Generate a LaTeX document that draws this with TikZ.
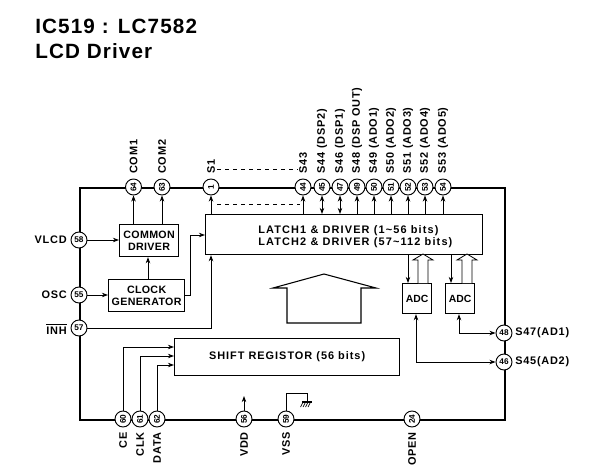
\documentclass[tikz,border=0pt]{standalone}
\usepackage{fontspec}
\setmainfont{Liberation Sans}
\newfontfamily\lblfont[LetterSpace=7]{Liberation Sans Bold}
\newfontfamily\widefont[LetterSpace=10.5]{Liberation Sans Bold}
\newfontfamily\midfont[LetterSpace=9]{Liberation Sans Bold}
\newfontfamily\blockfont[LetterSpace=3]{Liberation Sans Bold}
\newfontfamily\titlefont[LetterSpace=5.5]{Liberation Sans Bold}
\newfontfamily\numfont{Liberation Sans Bold}
\usetikzlibrary{arrows.meta,calc}
\tikzset{
  x=0.75pt,y=-0.75pt,
  wire/.style={line width=0.6pt,-{Stealth[length=4.6pt,width=3.4pt]}},
  wiretwo/.style={line width=0.6pt,{Stealth[length=4.6pt,width=3.4pt]}-{Stealth[length=4.6pt,width=3.4pt]}},
  plainwire/.style={line width=0.6pt},
  blockbox/.style={draw,line width=0.9pt,inner sep=0pt,anchor=north west,align=center,font=\blockfont\fontsize{8}{9}\selectfont},
  chipframe/.style={draw,line width=1.5pt,inner sep=0pt,anchor=north west},
  pin/.style={draw,circle,fill=white,line width=0.7pt,minimum size=12pt,inner sep=0pt,font=\numfont\fontsize{6.2}{6.5}\selectfont},
  pinv/.style={pin,rotate=90},
  toplabel/.style={rotate=90,anchor=west,inner sep=0pt,font=\lblfont\fontsize{8.2}{9}\selectfont},
  botlabel/.style={rotate=90,anchor=east,inner sep=0pt,font=\lblfont\fontsize{8.2}{9}\selectfont},
  sidelabel/.style={inner sep=0pt,font=\lblfont\fontsize{8.2}{9}\selectfont},
  titletext/.style={anchor=west,inner sep=0pt,font=\titlefont\fontsize{15.5}{18}\selectfont},
  hollow/.style={line width=0.6pt,fill=white},
}
\begin{document}
\begin{tikzpicture}
\useasboundingbox (0,0) rectangle (606,467);
\node[titletext] (t1) at (35,26) {IC519 : LC7582};
\node[titletext] (t2) at (35,51) {LCD Driver};

% chip outline
\node[chipframe,minimum width=318.75pt,minimum height=174pt] (chip) at (79,187) {};

% blocks
\node[blockbox,minimum width=44.25pt,minimum height=24pt] (cdrv) at (119,224) {COMMON\\DRIVER};
\node[blockbox,minimum width=57pt,minimum height=24pt] (clk) at (108,279) {CLOCK\\GENERATOR};
\node[blockbox,minimum width=207.75pt,minimum height=30pt] (latch) at (205,214) {};
\node[anchor=west,inner sep=0pt,align=left,font=\widefont\fontsize{8.2}{9}\selectfont] (latchtext) at (258,236.5) {LATCH1 \& DRIVER (1\textasciitilde 56 bits)\\LATCH2 \& DRIVER (57\textasciitilde 112 bits)};
\node[blockbox,minimum width=168.75pt,minimum height=27.75pt,font=\midfont\fontsize{8.2}{9}\selectfont] (shift) at (174,338) {SHIFT REGISTOR (56 bits)};
\node[blockbox,minimum width=21.75pt,minimum height=22.5pt,font=\numfont\fontsize{7.8}{9}\selectfont] (adca) at (402,283) {ADC};
\node[blockbox,minimum width=21.75pt,minimum height=22.5pt,font=\numfont\fontsize{7.8}{9}\selectfont] (adcb) at (445,283) {ADC};

% pins
\foreach \n/\x in {64/133.5,63/162,1/211,44/303,45/322,47/340,49/357,50/374,51/391,52/408,53/425,54/443}
  \node[pinv] (p\n) at (\x,187) {\n};
\foreach \n/\y in {58/240,55/295,57/328}
  \node[pin] (p\n) at (79,\y) {\n};
\foreach \n/\x in {60/123,61/140,62/157,56/244,59/286,24/412}
  \node[pinv] (p\n) at (\x,419) {\n};
\foreach \n/\y in {48/333,46/362}
  \node[pin] (p\n) at (504,\y) {\n};

% top connectors
\draw[wire] (p64|-cdrv.north) -- (p64);
\draw[wire] (p63|-cdrv.north) -- (p63);
\draw[wire] (p1|-latch.north) -- (p1);
\draw[wire] (p44|-latch.north) -- (p44);
\draw[wiretwo] (p45|-latch.north) -- (p45);
\draw[wiretwo] (p47|-latch.north) -- (p47);
\foreach \n in {49,50,51,52,53,54}
  \draw[wire] (p\n|-latch.north) -- (p\n);

% dashed continuation
\coordinate (da) at (217,169);
\coordinate (db) at (298,169);
\coordinate (dc) at (217,204);
\coordinate (dd) at (300,204);
\draw[plainwire,dashed] (da) -- (db);
\draw[plainwire,dashed] (dc) -- (dd);

% left connectors
\draw[wire] (p58) -- (p58-|cdrv.west);
\draw[wire] (p55) -- (p55-|clk.west);
\draw[wire] (clk.north-|148,0) -- (cdrv.south-|148,0);
\coordinate (clkbend) at (190,295);
\draw[wire] (clkbend-|clk.east) -- (clkbend) |- (205,235);
\coordinate (inhup) at (211,328);
\draw[wire] (p57) -- (inhup) -- (inhup|-latch.south);

% shift register inputs
\draw[wire] (p60) |- (174,347);
\draw[wire] (p61) |- (174,356);
\draw[wire] (p62) |- (174,365);

% VDD and VSS
\coordinate (vddtip) at (244,396);
\draw[wire] (p56) -- (vddtip);
\coordinate (vsstop) at (307,393);
\coordinate (gnd) at (307,402);
\draw[plainwire] (p59) |- (vsstop) -- (gnd);
\draw[line width=0.8pt] ($(gnd)+(-5,0)$) -- ($(gnd)+(5,0)$);
\foreach \d in {-4,-1.5,1,3.5}
  \draw[line width=0.5pt] ($(gnd)+(\d,0)$) -- ($(gnd)+(\d-2.5,5)$);

% latch to ADC
\draw[wire] (408,254) -- (408,283);
\draw[wire] (451,254) -- (451,283);
\draw[hollow] (418,283) -- (418,260) -- (413,260) -- (423,254) -- (433,260) -- (428,260) -- (428,283);
\draw[hollow] (462,283) -- (462,260) -- (457,260) -- (467,254) -- (477,260) -- (472,260) -- (472,283);

% ADC to pins
\coordinate (adcbx) at (459,333);
\draw[wiretwo] (adcbx|-adcb.south) -- (adcbx) -- (p48);
\coordinate (adcax) at (416,362);
\draw[wiretwo] (adcax|-adca.south) -- (adcax) -- (p46);

% big arrow
\draw[line width=0.8pt] (287,323) -- (287,288) -- (273,288) -- (324,274) -- (376,288) -- (361,288) -- (361,323) -- cycle;

% labels
\node[toplabel] (lcom1) at (p64|-0,174) {COM1};
\node[toplabel] (lcom2) at (p63|-0,174) {COM2};
\node[toplabel] (ls1) at (p1|-0,174) {S1};
\node[toplabel] (ls43) at (p44|-0,174) {S43};
\node[toplabel] (ls44) at (p45|-0,174) {S44 (DSP2)};
\node[toplabel] (ls46) at (p47|-0,174) {S46 (DSP1)};
\node[toplabel] (ls48) at (p49|-0,174) {S48 (DSP OUT)};
\node[toplabel] (ls49) at (p50|-0,174) {S49 (ADO1)};
\node[toplabel] (ls50) at (p51|-0,174) {S50 (ADO2)};
\node[toplabel] (ls51) at (p52|-0,174) {S51 (ADO3)};
\node[toplabel] (ls52) at (p53|-0,174) {S52 (ADO4)};
\node[toplabel] (ls53) at (p54|-0,174) {S53 (ADO5)};
\node[sidelabel,anchor=east] (lvlcd) at (67,240) {VLCD};
\node[sidelabel,anchor=east] (losc) at (67,295) {OSC};
\node[sidelabel,anchor=east] (linh) at (67,329) {$\overline{\mbox{INH}}$};
\node[sidelabel,anchor=west] (ls47) at (515,333) {S47(AD1)};
\node[sidelabel,anchor=west] (ls45) at (515,362) {S45(AD2)};
\node[botlabel] (lce) at (p60|-0,432) {CE};
\node[botlabel] (lclk) at (p61|-0,432) {CLK};
\node[botlabel] (ldata) at (p62|-0,432) {DATA};
\node[botlabel] (lvdd) at (p56|-0,432) {VDD};
\node[botlabel] (lvss) at (p59|-0,432) {VSS};
\node[botlabel] (lopen) at (p24|-0,432) {OPEN};
\end{tikzpicture}
\end{document}
